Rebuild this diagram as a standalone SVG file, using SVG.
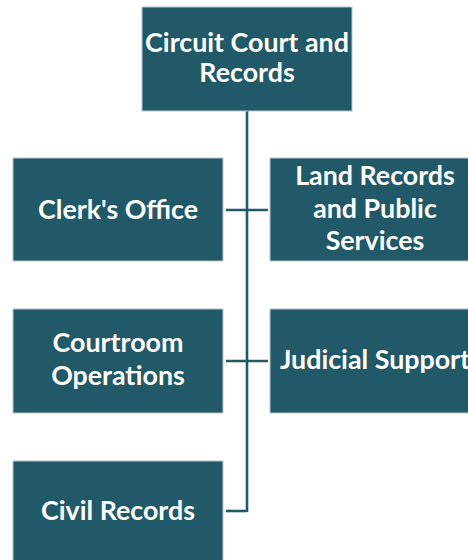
<svg xmlns="http://www.w3.org/2000/svg" width="468" height="560" viewBox="0 0 468 560">
<style>
.box{fill:#215968;stroke:#b8c7cc;stroke-width:1}
.t{font-family:Lato,"Open Sans",sans-serif;font-weight:bold;font-size:26.8px;fill:#ffffff;text-anchor:middle}
.c{stroke:#215968;stroke-width:2.6;fill:none}
</style>
<rect width="468" height="560" fill="#ffffff"/>
<g id="connectors">
<line class="c" x1="247" y1="111" x2="247" y2="512"/>
<line class="c" x1="226" y1="210" x2="268" y2="210"/>
<line class="c" x1="226" y1="361" x2="268" y2="361"/>
<polyline class="c" points="226,511 247,511"/>
</g>
<g id="n0">
<rect class="box" x="142" y="7" width="210" height="104"/>
<text class="t" x="247" y="52">Circuit Court and</text>
<text class="t" x="247" y="82">Records</text>
</g>
<g id="n1">
<rect class="box" x="13" y="158" width="210" height="103"/>
<text class="t" x="118" y="219">Clerk's Office</text>
</g>
<g id="n2">
<rect class="box" x="270" y="158" width="210" height="103"/>
<text class="t" x="375" y="185">Land Records</text>
<text class="t" x="375" y="218">and Public</text>
<text class="t" x="375" y="250">Services</text>
</g>
<g id="n3">
<rect class="box" x="13" y="309" width="210" height="104"/>
<text class="t" x="118" y="352">Courtroom</text>
<text class="t" x="118" y="385">Operations</text>
</g>
<g id="n4">
<rect class="box" x="270" y="309" width="210" height="104"/>
<text class="t" x="375" y="369">Judicial Support</text>
</g>
<g id="n5">
<rect class="box" x="13" y="461" width="210" height="104"/>
<text class="t" x="118" y="520">Civil Records</text>
</g>
</svg>
